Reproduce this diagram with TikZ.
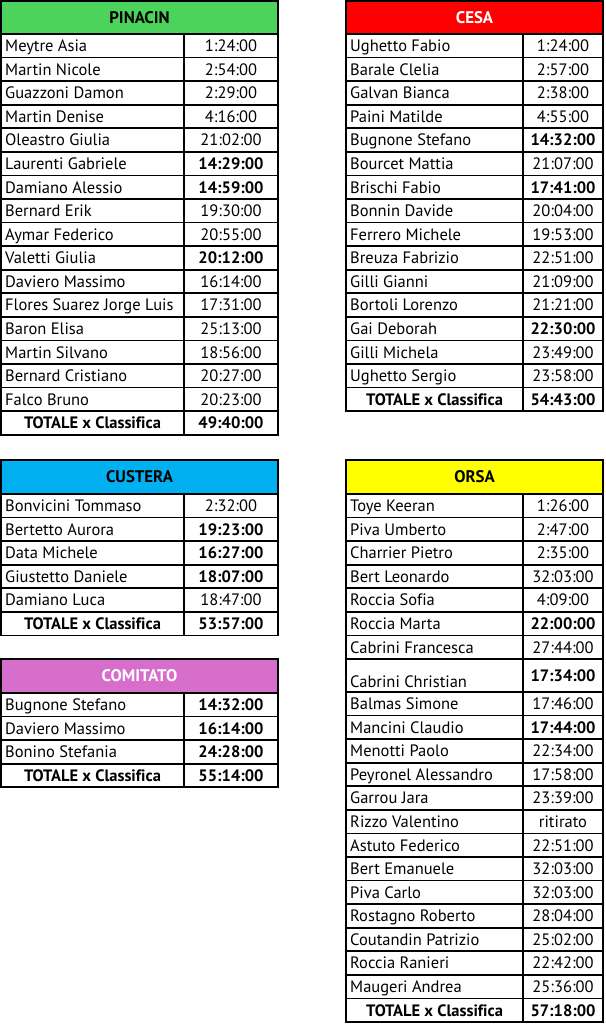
\documentclass[tikz,border=0pt]{standalone}
\usepackage{fontspec}
\setmainfont{PT Sans}[Ligatures={NoCommon}]
\definecolor{hgreen}{RGB}{76,211,91}
\definecolor{hred}{RGB}{255,0,0}
\definecolor{hcyan}{RGB}{0,176,240}
\definecolor{hpink}{RGB}{216,110,204}
\definecolor{hyellow}{RGB}{255,255,0}
\tikzset{
  cellline/.style={draw=black, line width=1.7pt},
  txt/.style={inner sep=0pt, font=\fontsize{16.5}{19}\selectfont, text=black},
  btxt/.style={inner sep=0pt, font=\fontsize{16.5}{19}\selectfont\bfseries, text=black},
  headtxt/.style={inner sep=0pt, font=\fontsize{16.8}{19}\selectfont\bfseries, anchor=base}
}
\newcommand\tabhead[8]{%
  \draw[cellline, fill=#6] (#2,#4) rectangle (#3,#5);
  \node[headtxt, text=#7] (#1h) at ({(#2+#3)/2},{(#4+#5)/2+5.8}) {#8};
}
\newcommand\tabrows[6]{%
  \foreach \nm/\tm/\fl [count=\i from 0] in {#6}{
    \pgfmathsetmacro\ya{#5+\i*23.57}
    \pgfmathsetmacro\yb{\ya+23.57}
    \pgfmathsetmacro\ym{\ya+11.785+5.9}
    \draw[cellline] (#2,\ya) rectangle (#4,\yb) (#3,\ya) -- (#3,\yb);
    \ifnum\fl=2
      \node[btxt, anchor=base] (#1n\i) at ({(#2+#3)/2},\ym) {\nm};
      \node[btxt, anchor=base] (#1t\i) at ({(#3+#4)/2},\ym) {\tm};
    \else
      \node[txt, anchor=base west] (#1n\i) at ({#2+4},\ym) {\nm};
      \ifnum\fl=1
        \node[btxt, anchor=base] (#1t\i) at ({(#3+#4)/2},\ym) {\tm};
      \else
        \node[txt, anchor=base] (#1t\i) at ({(#3+#4)/2},\ym) {\tm};
      \fi
    \fi
  }%
}
\begin{document}
\begin{tikzpicture}[x=1pt,y=-1pt]
\useasboundingbox (0,0) rectangle (605,1024);
% PINACIN
\tabhead{pin}{1}{278}{1}{34}{hgreen}{black}{PINACIN}
\tabrows{pin}{1}{184}{278}{34}{Meytre Asia/1:24:00/0, Martin Nicole/2:54:00/0, Guazzoni Damon/2:29:00/0, Martin Denise/4:16:00/0, Oleastro Giulia/21:02:00/0, Laurenti Gabriele/14:29:00/1, Damiano Alessio/14:59:00/1, Bernard Erik/19:30:00/0, Aymar Federico/20:55:00/0, Valetti Giulia/20:12:00/1, Daviero Massimo/16:14:00/0, Flores Suarez Jorge Luis/17:31:00/0, Baron Elisa/25:13:00/0, Martin Silvano/18:56:00/0, Bernard Cristiano/20:27:00/0, Falco Bruno/20:23:00/0, TOTALE x Classifica/49:40:00/2}
% CESA
\tabhead{ces}{346}{603}{1}{34}{hred}{white}{CESA}
\tabrows{ces}{346}{523}{603}{34}{Ughetto Fabio/1:24:00/0, Barale Clelia/2:57:00/0, Galvan Bianca/2:38:00/0, Paini Matilde/4:55:00/0, Bugnone Stefano/14:32:00/1, Bourcet Mattia/21:07:00/0, Brischi Fabio/17:41:00/1, Bonnin Davide/20:04:00/0, Ferrero Michele/19:53:00/0, Breuza Fabrizio/22:51:00/0, Gilli Gianni/21:09:00/0, Bortoli Lorenzo/21:21:00/0, Gai Deborah/22:30:00/1, Gilli Michela/23:49:00/0, Ughetto Sergio/23:58:00/0, TOTALE x Classifica/54:43:00/2}
% CUSTERA
\tabhead{cus}{1}{278}{460}{494}{hcyan}{black}{CUSTERA}
\tabrows{cus}{1}{184}{278}{494}{Bonvicini Tommaso/2:32:00/0, Bertetto Aurora/19:23:00/1, Data Michele/16:27:00/1, Giustetto Daniele/18:07:00/1, Damiano Luca/18:47:00/0, TOTALE x Classifica/53:57:00/2}
% COMITATO
\tabhead{com}{1}{278}{659}{693}{hpink}{white}{COMITATO}
\tabrows{com}{1}{184}{278}{693}{Bugnone Stefano/14:32:00/1, Daviero Massimo/16:14:00/1, Bonino Stefania/24:28:00/1, TOTALE x Classifica/55:14:00/2}
% ORSA
\tabhead{ors}{346}{603}{460}{494}{hyellow}{black}{ORSA}
\tabrows{orsa}{346}{523}{603}{494}{Toye Keeran/1:26:00/0, Piva Umberto/2:47:00/0, Charrier Pietro/2:35:00/0, Bert Leonardo/32:03:00/0, Roccia Sofia/4:09:00/0, Roccia Marta/22:00:00/1, Cabrini Francesca/27:44:00/0}
\draw[cellline] (346,659) rectangle (603,692) (523,659) -- (523,692);
\node[txt, anchor=base west] (orscn) at (350,687) {Cabrini Christian};
\node[btxt, anchor=base] (orsct) at (563,681.5) {17:34:00};
\tabrows{orsb}{346}{523}{603}{692}{Balmas Simone/17:46:00/0, Mancini Claudio/17:44:00/1, Menotti Paolo/22:34:00/0, Peyronel Alessandro/17:58:00/0, Garrou Jara/23:39:00/0, Rizzo Valentino/ritirato/0, Astuto Federico/22:51:00/0, Bert Emanuele/32:03:00/0, Piva Carlo/32:03:00/0, Rostagno Roberto/28:04:00/0, Coutandin Patrizio/25:02:00/0, Roccia Ranieri/22:42:00/0, Maugeri Andrea/25:36:00/0, TOTALE x Classifica/57:18:00/2}
\end{tikzpicture}
\end{document}
